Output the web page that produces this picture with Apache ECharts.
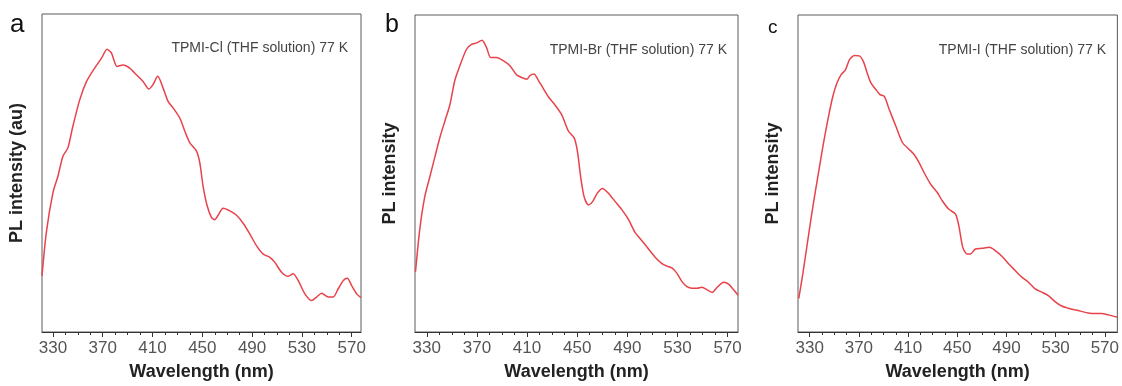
<!DOCTYPE html>
<html>
<head>
<meta charset="utf-8">
<title>PL spectra 77 K</title>
<script src="https://cdn.jsdelivr.net/npm/echarts@6/dist/echarts.min.js"></script>
<style>
    html, body { margin: 0; padding: 0; background: #fff; }
    #pl { width: 1122px; height: 386px; }
</style>
</head>
<body>
<div id="pl"></div>
<script>
// data (y in arbitrary units, 0 = bottom of box, 100 = top)
const majorTicks = [330, 370, 410, 450, 490, 530, 570];
const minorTicks = [340, 350, 360, 380, 390, 400, 420, 430, 440, 460, 470, 480, 500, 510, 520, 540, 550, 560];

const panelNames = ['a', 'b', 'c'];
const panelNotes = ['TPMI-Cl (THF solution) 77 K', 'TPMI-Br (THF solution) 77 K', 'TPMI-I (THF solution) 77 K'];
const yTitles = ['PL intensity (au)', 'PL intensity', 'PL intensity'];

const waveA = [321.2, 324.7, 330, 334, 338, 342, 346, 351.5, 357, 363.5, 369, 373.5, 377, 381.5, 386.3, 391.7, 397, 402.4, 407,
    410.4, 414.2, 418.5, 422.5, 426.5, 431.9, 435.9, 440, 445.3, 448, 450.6, 453.9, 457.4, 460, 462.7, 466.7, 472.1, 477.5,
    482.8, 488.2, 493.6, 498.9, 504.3, 508.3, 513.7, 519, 523, 527, 532.4, 537.8, 541.8, 545.9, 551.2, 555.2, 559.2, 563.3,
    566.5, 570, 574, 577.5];
const intA = [17.7, 31.3, 43.8, 49, 55.3, 57.9, 64.7, 73, 78.8, 83, 86.1, 88.9, 87.7, 83.5, 84, 83, 80.9, 78.8, 76.4,
    77.8, 80.4, 76.7, 72.5, 70.5, 67.3, 63.2, 59.5, 56.9, 53.2, 45.9, 39.7, 36, 35.3, 36.7, 38.9, 38.1, 36.7,
    34.2, 30.8, 27.1, 24.5, 23.5, 21.9, 18.8, 17.5, 18.3, 16.2, 12, 9.9, 11, 12.2, 11, 11, 13.6, 16.2,
    16.9, 14.6, 12, 10.8];

const waveB = [321, 324.4, 328.4, 332.4, 336.4, 340.4, 344.4, 348.4, 352.4, 356.4, 361.7, 365.7, 369.7, 374, 377.7, 380.9,
    385.7, 391, 396.3, 401.7, 407, 409.7, 412.3, 415.5, 419, 423, 427, 432.3, 437.7, 443, 447.5, 450.1, 452.8, 455.5,
    458.9, 462.4, 466.1, 470.1, 474.9, 480.2, 485.6, 490.9, 496.2, 501.6, 506.9, 512.2, 517.6, 521.6, 525.6, 529.6,
    533.6, 537.6, 541.6, 545.6, 549.6, 553.6, 557.7, 561.7, 566.8, 570.8, 574.8, 578.3];
const intB = [19, 32.4, 42.7, 48.9, 55.1, 61.3, 66.5, 71.6, 79.4, 84, 89.2, 90.7, 91.2, 92, 89.7, 86.6,
    86.6, 85.6, 84, 81.1, 80.1, 79.7, 80.9, 81.4, 79.4, 76.8, 74.2, 71.6, 68.5, 63.4, 61.3, 57.2, 48.9, 42.7,
    40.1, 41.2, 43.8, 45.3, 43.8, 41.2, 38.6, 35.5, 31.4, 28.8, 26.2, 23.6, 21.6, 20.8, 20.2, 18.5,
    15.9, 14.3, 13.8, 13.8, 14.1, 13.3, 12.5, 14.1, 15.7, 15.1, 13.3, 11.6];

const waveC = [321.1, 324.6, 328.6, 332.7, 336.7, 340.8, 344.8, 348.8, 352.1, 355.6, 359.1, 362.4, 366.4, 370.4, 373.7,
    377.2, 379.9, 384, 387.2, 390.7, 394.7, 400.1, 405.5, 410.9, 414.9, 419, 423, 428.4, 433.8, 437.8, 443.2, 448.6,
    451.3, 454.5, 458, 460.7, 464.8, 470.1, 476.1, 480.9, 486.3, 491.7, 497.1, 502.5, 507.9, 513.3, 518.7, 524.1,
    529.5, 534.9, 540.3, 545.6, 551, 556.4, 561.8, 567.2, 572.6, 580];
const intC = [10.5, 18.8, 29.3, 39.8, 49.2, 58.6, 67, 74.3, 78.5, 81.2, 82.7, 85.9, 87.2, 87.1, 85.3,
    81.2, 78.5, 76.4, 74.9, 74.3, 70.2, 64.9, 59.7, 57.6, 56, 53.4, 50.3, 46.6, 44, 41.4, 38.7, 37.2,
    33.5, 26.7, 24.6, 24.6, 26.2, 26.4, 26.7, 25.7, 23.9, 21.5, 19.4, 17.3, 15.7, 13.6, 12.6, 11.5,
    9.6, 8.2, 7.5, 7, 6.5, 6, 5.8, 5.8, 5.4, 4.7];

const waves = [waveA, waveB, waveC];
const intensities = [intA, intB, intC];

document.addEventListener('DOMContentLoaded', function () {
    const dom = document.getElementById('pl');
    const chart = echarts.init(dom, null, { renderer: 'canvas' });

    const font = "'Liberation Sans', Arial, sans-serif";
    const lineColor = '#e8424a';

    // box positions of the three panels (px)
    const boxes = [
        { left: 42, top: 14, right: 361, bottom: 335, xMin: 321.2, xMax: 577.5 },
        { left: 415, top: 15, right: 738, bottom: 338, xMin: 320.6, xMax: 578.3 },
        { left: 798, top: 15, right: 1119, bottom: 334, xMin: 320.5, xMax: 580.2 }
    ];
    // panel letter + note text positions
    const letters = [
        { x: 10, y: 25, size: 26 },
        { x: 385, y: 25, size: 25 },
        { x: 768, y: 28, size: 19 }
    ];
    const notes = [
        { x: 348, y: 48 },
        { x: 727, y: 50 },
        { x: 1106, y: 50 }
    ];

    const grid = [];
    const xAxis = [];
    const yAxis = [];
    const series = [];
    const graphic = [];

    boxes.forEach(function (b, i) {
        grid.push({
            left: b.left,
            top: b.top,
            width: b.right - b.left,
            height: b.bottom - b.top,
            show: true,
            borderColor: '#5a5a5a',
            borderWidth: 1,
            backgroundColor: 'transparent',
            containLabel: false
        });

        // major ticks + labels
        xAxis.push({
            type: 'value',
            gridIndex: i,
            position: 'bottom',
            min: b.xMin,
            max: b.xMax,
            name: 'Wavelength (nm)',
            nameLocation: 'middle',
            nameGap: 31,
            nameTextStyle: { fontFamily: font, fontSize: 18, fontWeight: 'bold', color: '#222' },
            axisLine: { show: true, lineStyle: { color: '#333', width: 1 } },
            axisTick: { show: true, customValues: majorTicks, length: 5, lineStyle: { color: '#333' } },
            axisLabel: { show: true, customValues: majorTicks, fontFamily: font, fontSize: 17, color: '#555', margin: 8 },
            splitLine: { show: false }
        });
        // minor ticks
        xAxis.push({
            type: 'value',
            gridIndex: i,
            position: 'bottom',
            min: b.xMin,
            max: b.xMax,
            axisLine: { show: false },
            axisTick: { show: true, customValues: minorTicks, length: 3, lineStyle: { color: '#333' } },
            axisLabel: { show: false },
            splitLine: { show: false }
        });

        yAxis.push({
            type: 'value',
            gridIndex: i,
            min: 0,
            max: 100,
            name: yTitles[i],
            nameLocation: 'middle',
            nameGap: 16,
            nameTextStyle: { fontFamily: font, fontSize: 18, fontWeight: 'bold', color: '#222' },
            axisLine: { show: false },
            axisTick: { show: false },
            axisLabel: { show: false },
            splitLine: { show: false }
        });

        series.push({
            type: 'line',
            xAxisIndex: i * 2,
            yAxisIndex: i,
            data: waves[i].map(function (w, k) { return [w, intensities[i][k]]; }),
            smooth: 0.25,
            showSymbol: false,
            lineStyle: { color: lineColor, width: 1.5 },
            animation: false
        });

        graphic.push({
            type: 'text',
            x: letters[i].x,
            y: letters[i].y,
            style: {
                text: panelNames[i],
                font: letters[i].size + 'px ' + font,
                fill: '#111',
                textAlign: 'left',
                textVerticalAlign: 'middle'
            }
        });
        graphic.push({
            type: 'text',
            x: notes[i].x,
            y: notes[i].y,
            style: {
                text: panelNotes[i],
                font: '14px ' + font,
                fill: '#444',
                textAlign: 'right',
                textVerticalAlign: 'middle'
            }
        });
    });

    chart.setOption({
        backgroundColor: '#fff',
        animation: false,
        grid: grid,
        xAxis: xAxis,
        yAxis: yAxis,
        series: series,
        graphic: graphic
    });

    window.addEventListener('resize', function () {
        chart.resize();
    });
});
</script>
</body>
</html>
